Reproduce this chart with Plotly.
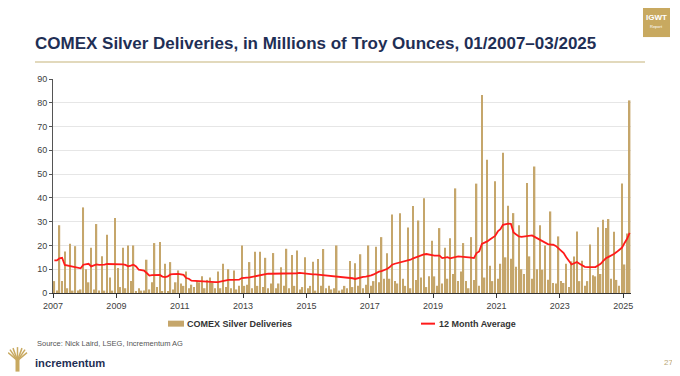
import plotly.graph_objects as go
import pandas as pd

# ---- data: monthly COMEX silver deliveries (Moz) ----
deliv_2007 = [5, 1, 28.5, 5, 17.5, 2, 20.7, 1, 19.7, 1, 1.5, 36]
deliv_2008 = [10, 4.5, 19, 1.5, 29, 1, 15.5, 1, 24.5, 6.5, 1, 31.5]
deliv_2009 = [10.5, 2.5, 19, 2, 20, 5, 20, 0.5, 2, 1, 1, 14]
deliv_2010 = [1.5, 4.5, 21, 2.5, 21.5, 0.5, 12.3, 0.5, 13, 1.5, 4.5, 9.5]
deliv_2011 = [4, 3, 9, 2, 3.5, 2.5, 5, 4.5, 7, 2, 5.5, 6.5]
deliv_2012 = [4.5, 2, 9, 2, 12.3, 2.5, 10, 2, 9.5, 1.5, 3, 20]
deliv_2013 = [3, 3.5, 13, 2, 17.3, 3, 17.4, 2.5, 14.8, 2, 4, 16.8]
deliv_2014 = [2, 4, 10.8, 3, 18.6, 2, 16, 3, 17.9, 1.5, 2.5, 15]
deliv_2015 = [2, 3, 13.1, 1, 14.3, 3, 18.5, 2, 3, 1.5, 2, 20]
deliv_2016 = [1, 1.5, 3, 2, 13.5, 2.5, 12.5, 3, 16.3, 2, 3.5, 20]
deliv_2017 = [3, 5, 19.5, 4.5, 23.5, 6, 16.7, 6, 33, 5, 4, 33.5]
deliv_2018 = [6, 3, 27.5, 2, 36.6, 5.5, 30.5, 6.5, 39.8, 2.5, 7, 22]
deliv_2019 = [7, 3, 27.3, 4, 19, 6, 23, 8, 44, 5, 9, 21]
deliv_2020 = [5, 2, 23.5, 5.5, 46, 3, 83.3, 6.5, 56, 11.5, 5, 47]
deliv_2021 = [6, 12.3, 59, 15, 36.7, 14.4, 33.6, 11, 28.5, 10, 8, 46.3]
deliv_2022 = [15.4, 6, 53.2, 10, 28.5, 9.8, 20, 5.6, 34.3, 4.2, 4, 23.8]
deliv_2023 = [5, 4.2, 12.3, 2.5, 13.3, 15.4, 25.9, 5, 13.6, 3, 5, 20.4]
deliv_2024 = [7.5, 7, 27.7, 8, 30.8, 27.3, 31.1, 6, 25.8, 5.5, 3, 46]
deliv_2025 = [12, 25, 81]

# ---- 12 month average line ----
avg_2007 = [13.7, 13.7, 14.6, 14.8, 11.8, 11.6, 11.5, 11.2, 10.9, 10.6, 10.4, 11.9]
avg_2008 = [12.1, 12.3, 11.2, 11.6, 12.0, 11.8, 11.8, 11.9, 12.2, 12.2, 12.3, 12.3]
avg_2009 = [12.0, 12.0, 12.0, 11.8, 11.2, 11.5, 11.9, 11.2, 9.8, 9.6, 9.4, 8.4]
avg_2010 = [7.3, 7.5, 7.6, 7.6, 7.6, 6.9, 6.7, 7.0, 7.8, 7.9, 8.0, 8.0]
avg_2011 = [7.8, 7.6, 6.3, 6.0, 5.2, 5.1, 5.0, 4.9, 4.9, 4.9, 4.9, 4.5]
avg_2012 = [4.5, 4.6, 4.6, 4.8, 5.3, 5.4, 5.5, 5.5, 5.5, 5.6, 5.6, 6.3]
avg_2013 = [6.3, 6.4, 6.6, 6.8, 7.0, 7.3, 7.6, 7.8, 8.1, 8.1, 8.1, 8.1]
avg_2014 = [8.1, 8.1, 8.0, 8.1, 8.1, 8.1, 8.1, 8.1, 8.3, 8.5, 8.3, 8.1]
avg_2015 = [8.0, 7.9, 7.8, 7.8, 7.7, 7.6, 7.6, 7.5, 7.1, 7.0, 7.0, 7.0]
avg_2016 = [7.0, 6.9, 6.7, 6.6, 6.4, 6.2, 5.9, 6.3, 6.7, 6.8, 6.9, 7.0]
avg_2017 = [7.4, 7.8, 8.4, 9.0, 9.2, 9.6, 10.1, 10.8, 11.9, 12.3, 12.6, 12.9]
avg_2018 = [13.1, 13.4, 13.6, 14.0, 14.6, 15.0, 15.6, 16.0, 16.2, 16.4, 16.1, 15.7]
avg_2019 = [15.7, 15.7, 15.7, 14.7, 14.9, 15.1, 14.6, 14.8, 15.3, 15.4, 15.3, 15.3]
avg_2020 = [15.1, 15.0, 14.9, 14.7, 16.8, 17.5, 20.6, 21.0, 21.7, 22.5, 23.4, 24.0]
avg_2021 = [25.9, 26.8, 28.7, 29.1, 29.2, 29.1, 25.5, 24.6, 23.8, 23.6, 23.7, 23.8]
avg_2022 = [24.0, 24.2, 23.6, 23.0, 22.4, 21.8, 21.0, 20.6, 20.4, 20.3, 19.8, 18.9]
avg_2023 = [18.0, 16.8, 15.0, 13.3, 12.0, 12.5, 13.0, 12.3, 11.5, 11.0, 10.9, 10.9]
avg_2024 = [10.9, 10.9, 11.6, 12.3, 13.5, 14.6, 15.2, 15.7, 16.4, 17.2, 18.0, 19.0]
avg_2025 = [21.0, 22.8, 25.3]

year_ticks = ["2007", "2009", "2011", "2013", "2015", "2017", "2019", "2021", "2023", "2025"]

deliveries = (deliv_2007 + deliv_2008 + deliv_2009 + deliv_2010 + deliv_2011 + deliv_2012
              + deliv_2013 + deliv_2014 + deliv_2015 + deliv_2016 + deliv_2017 + deliv_2018
              + deliv_2019 + deliv_2020 + deliv_2021 + deliv_2022 + deliv_2023 + deliv_2024
              + deliv_2025)
average = (avg_2007 + avg_2008 + avg_2009 + avg_2010 + avg_2011 + avg_2012 + avg_2013
           + avg_2014 + avg_2015 + avg_2016 + avg_2017 + avg_2018 + avg_2019 + avg_2020
           + avg_2021 + avg_2022 + avg_2023 + avg_2024 + avg_2025)
months = pd.date_range("2007-01-01", periods=len(deliveries), freq="MS")

BAR = "#c5a66b"
RED = "#ff1a1a"
NAVY = "#1f2f55"
GOLD = "#c8a960"
FONT = "Liberation Sans, Arial, sans-serif"

# the page body adds an 8px offset; all target positions are shifted by it
OFF = 8
W, H = 680, 376
PLOT_L, PLOT_R, PLOT_T, PLOT_B = 53, 631, 79, 293.3   # target pixel box
L = PLOT_L - OFF
R = W - (PLOT_R - OFF)
T = PLOT_T - OFF
B = H - (PLOT_B - OFF)
PW, PH = W - L - R, H - T - B


def px(x):
    return (x - OFF - L) / PW


def py(y):
    return (H - B - (y - OFF)) / PH


fig = go.Figure()
fig.add_trace(go.Bar(
    x=months, y=deliveries, name="COMEX Silver Deliveries",
    marker=dict(color=BAR, line=dict(width=0)),
    xperiod="M1", xperiodalignment="middle", showlegend=False,
))
fig.add_trace(go.Scatter(
    x=months, y=average, name="12 Month Average", mode="lines",
    line=dict(color=RED, width=1.8),
    xperiod="M1", xperiodalignment="middle", showlegend=False,
))

tickdates = [f"{y}-01-01" for y in year_ticks]

fig.update_layout(
    width=W, height=H, autosize=False,
    margin=dict(l=L, r=R, t=T, b=B, pad=0),
    paper_bgcolor="white", plot_bgcolor="white",
    bargap=0.42,
    font=dict(family=FONT, size=9, color="#404040"),
    title=dict(
        text="<b>COMEX Silver Deliveries, in Millions of Troy Ounces, 01/2007–03/2025</b>",
        x=(35 - OFF) / W, xanchor="left", y=1 - (43 - OFF) / H, yanchor="middle",
        font=dict(family=FONT, size=17, color=NAVY),
    ),
    xaxis=dict(
        type="date", range=["2007-01-01", "2025-04-01"],
        tickvals=tickdates, ticktext=year_ticks,
        showgrid=False, showline=True, linecolor="#333333", linewidth=1,
        ticks="outside", ticklen=4, tickcolor="#333333",
        tickfont=dict(size=9, color="#404040"),
    ),
    yaxis=dict(
        range=[0, 90], dtick=10, showgrid=True, gridcolor="#e6e6e6", gridwidth=1,
        showline=True, linecolor="#555555", linewidth=1,
        ticks="outside", ticklen=3, tickcolor="#555555",
        tickfont=dict(size=9, color="#404040"), zeroline=False,
    ),
    showlegend=False,
)

shapes = []
ann = []

# rule under the title
shapes.append(dict(type="line", xref="paper", yref="paper",
                   x0=px(35), x1=px(645), y0=py(62), y1=py(62),
                   line=dict(color="#d8cca6", width=1.5)))
# IGWT badge
shapes.append(dict(type="rect", xref="paper", yref="paper",
                   x0=px(643), x1=px(670), y0=py(37), y1=py(4),
                   fillcolor=GOLD, line=dict(width=0)))
ann.append(dict(text="<b>IGWT</b>", x=px(656.5), y=py(17), xref="paper", yref="paper",
                showarrow=False, font=dict(family=FONT, size=8, color="white"),
                xanchor="center", yanchor="middle"))
ann.append(dict(text="Report", x=px(656.5), y=py(26), xref="paper", yref="paper",
                showarrow=False, font=dict(family=FONT, size=4, color="white"),
                xanchor="center", yanchor="middle"))

# custom legend
shapes.append(dict(type="rect", xref="paper", yref="paper",
                   x0=px(168), x1=px(184), y0=py(327), y1=py(321),
                   fillcolor=BAR, line=dict(width=0)))
ann.append(dict(text="<b>COMEX Silver Deliveries</b>", x=px(185), y=py(324),
                xref="paper", yref="paper", showarrow=False, xanchor="left",
                yanchor="middle", font=dict(family=FONT, size=9, color="#333333")))
shapes.append(dict(type="line", xref="paper", yref="paper",
                   x0=px(421), x1=px(435), y0=py(324), y1=py(324),
                   line=dict(color=RED, width=2)))
ann.append(dict(text="<b>12 Month Average</b>", x=px(437), y=py(324),
                xref="paper", yref="paper", showarrow=False, xanchor="left",
                yanchor="middle", font=dict(family=FONT, size=9, color="#333333")))

# source line
ann.append(dict(text="Source: Nick Laird, LSEG, Incrementum AG", x=px(35), y=py(344),
                xref="paper", yref="paper", showarrow=False, xanchor="left",
                yanchor="middle", font=dict(family=FONT, size=7.5, color="#555555")))

# incrementum logo (tree + text)
shapes.append(dict(type="rect", xref="paper", yref="paper",
                   x0=px(15.5), x1=px(19.5), y0=py(372), y1=py(360),
                   fillcolor=GOLD, line=dict(width=0)))
for bx, by in [(8, 353), (10, 350), (13, 348.5), (17.5, 347.5), (22, 348.5), (25, 350), (27, 353)]:
    shapes.append(dict(type="line", xref="paper", yref="paper",
                       x0=px(17.5), y0=py(361), x1=px(bx), y1=py(by),
                       line=dict(color=GOLD, width=1.5)))
ann.append(dict(text="<b>incrementum</b>", x=px(33), y=py(363),
                xref="paper", yref="paper", showarrow=False, xanchor="left",
                yanchor="middle", font=dict(family=FONT, size=11.2, color=NAVY)))
ann.append(dict(text="27", x=px(668), y=py(363),
                xref="paper", yref="paper", showarrow=False, xanchor="center",
                yanchor="middle", font=dict(family=FONT, size=8, color="#b8a878")))

fig.update_layout(shapes=shapes, annotations=ann)

fig.write_html("out.html", config={"displayModeBar": False})
